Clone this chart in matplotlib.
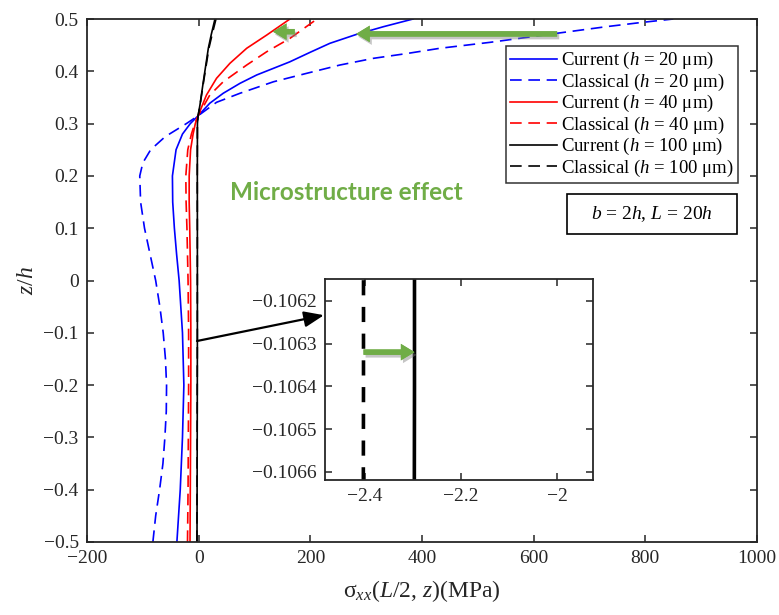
import matplotlib
matplotlib.use("Agg")
import matplotlib.pyplot as plt
from matplotlib.ticker import FuncFormatter, FixedLocator
from matplotlib.patches import FancyArrowPatch, Rectangle
from matplotlib import patheffects

plt.rcParams['font.family'] = ['Liberation Serif', 'DejaVu Serif']
plt.rcParams['mathtext.fontset'] = 'custom'
plt.rcParams['mathtext.rm'] = 'Liberation Serif'
plt.rcParams['mathtext.it'] = 'Liberation Serif:italic'
plt.rcParams['mathtext.bf'] = 'Liberation Serif:bold'

# ---------------- data ----------------
# Current, h = 20 um
z_cur20 = [-0.5, -0.4, -0.3, -0.2, -0.1, 0.0, 0.05, 0.1, 0.15, 0.2, 0.25, 0.28, 0.3, 0.315,
           0.339, 0.358, 0.377, 0.393, 0.4057, 0.418, 0.436, 0.4535, 0.4707, 0.4853, 0.5]
s_cur20 = [-39, -33, -29, -26.5, -29, -35, -39.5, -43.5, -46.5, -47, -40.5, -29, -15, -1,
           20, 44, 74, 104, 134, 163, 199, 235, 283, 331, 384]
# Classical, h = 20 um
z_cla20 = [-0.5, -0.45, -0.4, -0.35, -0.3, -0.25, -0.2, -0.15, -0.1, -0.05, 0.0, 0.05, 0.1, 0.15,
           0.2, 0.225, 0.25, 0.275, 0.3, 0.315, 0.3407, 0.358, 0.38, 0.396, 0.412, 0.4248,
           0.434, 0.444, 0.4516, 0.4554, 0.4726, 0.4853, 0.493, 0.5]
s_cla20 = [-82, -77, -70, -64, -60.5, -58, -57.5, -59.5, -63.5, -69.5, -77, -87, -97, -104,
           -105.5, -100, -86, -60, -22, -1, 32, 74, 134, 193, 253, 313,
           373, 432, 492, 522, 641, 730, 790, 850]
# Current, h = 40 um
z_cur40 = [-0.5, -0.4, -0.3, -0.2, -0.1, 0.0, 0.1, 0.15, 0.2, 0.25, 0.28, 0.3, 0.315,
           0.3547, 0.3866, 0.4153, 0.444, 0.4694, 0.5]
s_cur40 = [-15.5, -15, -14.5, -14, -14, -14.5, -16, -17, -17, -14.5, -10, -6, -1,
           14, 32, 56, 86, 122, 163.5]
# Classical, h = 40 um
z_cla40 = [-0.5, -0.4, -0.3, -0.2, -0.1, 0.0, 0.1, 0.15, 0.2, 0.25, 0.28, 0.3, 0.315,
           0.3547, 0.38, 0.412, 0.4375, 0.463, 0.5]
s_cla40 = [-20, -19, -18.5, -18, -18, -19, -21, -22.5, -23, -19.5, -13, -7, -1,
           20, 44, 86, 122, 163.5, 212]
# Current, h = 100 um
z_cur100 = [-0.5, -0.3, -0.1064, 0.1, 0.2, 0.3, 0.315, 0.3356, 0.38, 0.444, 0.47, 0.5]
s_cur100 = [-3.0, -2.6, -2.297, -2.3, -2.4, -2.2, -1.0, 2.3, 8.3, 17.3, 22.5, 29.2]
# Classical, h = 100 um
z_cla100 = [-0.5, -0.3, -0.1064, 0.1, 0.2, 0.3, 0.315, 0.3356, 0.38, 0.444, 0.47, 0.5]
s_cla100 = [-3.1, -2.7, -2.403, -2.4, -2.5, -2.3, -1.0, 2.5, 8.8, 18.3, 24.0, 31.0]

labels = ['Current ($h$ = 20 μm)', 'Classical ($h$ = 20 μm)',
          'Current ($h$ = 40 μm)', 'Classical ($h$ = 40 μm)',
          'Current ($h$ = 100 μm)', 'Classical ($h$ = 100 μm)']

x_ticks = [-200, 0, 200, 400, 600, 800, 1000]
y_ticks = [-0.5, -0.4, -0.3, -0.2, -0.1, 0.0, 0.1, 0.2, 0.3, 0.4, 0.5]
inset_x_ticks = [-2.4, -2.2, -2.0]
inset_y_ticks = [-0.1066, -0.1065, -0.1064, -0.1063, -0.1062]

GREEN = '#70AD47'
AXC = '#262626'

W, H = 779, 615
fig = plt.figure(figsize=(W / 100, H / 100), dpi=100)


def fx(px):
    return px / W


def fy(py):
    return 1 - py / H


ax = fig.add_axes([fx(87), fy(542), fx(757) - fx(87), fy(19) - fy(542)])

def g_fmt(v, p):
    if abs(v) < 1e-12:
        return '0'
    return ('%g' % round(v, 6)).replace('-', '\u2212')

curves = [(s_cur20, z_cur20, 'blue', '-'), (s_cla20, z_cla20, 'blue', '--'),
          (s_cur40, z_cur40, 'red', '-'), (s_cla40, z_cla40, 'red', '--'),
          (s_cur100, z_cur100, 'black', '-'), (s_cla100, z_cla100, 'black', '--')]
handles = []
for (s, z, c, ls), lab in zip(curves, labels):
    ln, = ax.plot(s, z, color=c, ls=ls, lw=1.2, label=lab, solid_joinstyle='round')
    if ls == '--':
        ln.set_dashes((7, 4))
    handles.append(ln)

ax.set_xlim(-200, 1000)
ax.set_ylim(-0.5, 0.5)
ax.xaxis.set_major_locator(FixedLocator(x_ticks))
ax.yaxis.set_major_locator(FixedLocator(y_ticks))
ax.xaxis.set_major_formatter(FuncFormatter(g_fmt))
ax.yaxis.set_major_formatter(FuncFormatter(g_fmt))
ax.tick_params(direction='in', top=True, right=True, length=5, width=1.1,
               labelsize=14, colors=AXC, pad=6)
for sp in ax.spines.values():
    sp.set_linewidth(1.3)
    sp.set_color(AXC)

ax.set_xlabel('σ$_{xx}$($L$/2, $z$)(MPa)', fontsize=17, color=AXC, labelpad=8)
ax.set_ylabel('$z$/$h$', fontsize=17, color=AXC, labelpad=4)

leg = ax.legend(handles=handles, loc='upper right',
                bbox_to_anchor=(fx(738), fy(46)), bbox_transform=fig.transFigure,
                fontsize=13.5, frameon=True, fancybox=False, edgecolor='black',
                handlelength=2.5, handletextpad=0.2, labelspacing=0.02,
                borderpad=0.22, borderaxespad=0)
leg.get_frame().set_linewidth(1.1)

# parameter box
fig.patches.append(Rectangle((fx(567), fy(234)), fx(737) - fx(567), fy(194) - fy(234),
                             transform=fig.transFigure, fill=False, edgecolor='black', lw=1.2))
fig.text(fx(652), fy(214), '$b$ = 2$h$, $L$ = 20$h$', ha='center', va='center', fontsize=14)

# microstructure effect text
fig.text(fx(346), fy(192), 'Microstructure effect', ha='center', va='center',
         fontsize=17.5, fontweight='bold', color=GREEN, family=['Lato', 'DejaVu Sans'])

shadow = [patheffects.withSimplePatchShadow(offset=(1.5, -2), shadow_rgbFace='#808080', alpha=0.45),
          patheffects.Normal()]
green_style = 'simple,head_length=1.4,head_width=1.7,tail_width=0.55'

def green_arrow(axis, x0, y0, x1, y1, ms=7):
    a = FancyArrowPatch((x0, y0), (x1, y1), arrowstyle=green_style, mutation_scale=ms,
                        color=GREEN, lw=0, shrinkA=0, shrinkB=0, zorder=6)
    a.set_path_effects(shadow)
    axis.add_patch(a)

green_arrow(ax, 642, 0.4715, 282, 0.4715)
green_arrow(ax, 172, 0.4758, 133, 0.4758)

# inset
axi = fig.add_axes([fx(325), fy(480), fx(593) - fx(325), fy(279) - fy(480)])
axi.plot(s_cur100, z_cur100, color='black', lw=2.6, ls='-')
lnd, = axi.plot(s_cla100, z_cla100, color='black', lw=2.6, ls='--')
lnd.set_dashes((4.2, 3.2))
axi.set_xlim(-2.483, -1.926)
axi.set_ylim(-0.106619, -0.106149)
axi.xaxis.set_major_locator(FixedLocator(inset_x_ticks))
axi.yaxis.set_major_locator(FixedLocator(inset_y_ticks))
axi.xaxis.set_major_formatter(FuncFormatter(g_fmt))
axi.yaxis.set_major_formatter(FuncFormatter(lambda v, p: ('%.4f' % v).replace('-', '\u2212')))
axi.tick_params(direction='in', top=True, right=True, length=5, width=1.1,
                labelsize=14, colors=AXC, pad=6)
for sp in axi.spines.values():
    sp.set_linewidth(1.3)
    sp.set_color(AXC)

green_arrow(axi, -2.403, -0.10632, -2.297, -0.10632)

# black arrow from main curve to inset
ax.annotate('', xy=(-0.004, 0.82), xycoords=axi.transAxes,
            xytext=(-3, -0.1157), textcoords=ax.transData,
            arrowprops=dict(arrowstyle='-|>,head_length=0.8,head_width=0.32',
                            mutation_scale=15, color='black', lw=1.6,
                            shrinkA=0, shrinkB=0), zorder=7)

fig.savefig('out.png', dpi=100)
